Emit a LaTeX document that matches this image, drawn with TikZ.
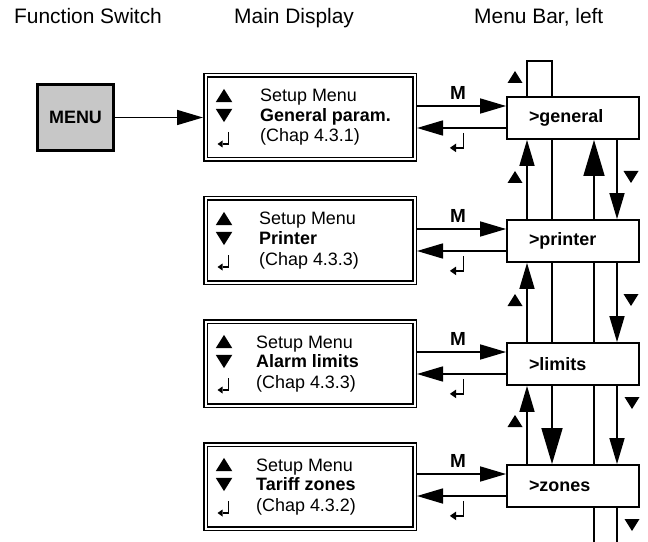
\documentclass[tikz,border=0pt]{standalone}
\usepackage{fontspec}
\setmainfont{Liberation Sans}
\usetikzlibrary{arrows.meta}

\tikzset{
  conn/.style={line width=1.6bp},
  tipN/.style={-{Triangle[length=26bp,width=15bp]}},
  tipL/.style={-{Triangle[length=36bp,width=21bp]}},
  menubtn/.style={draw, line width=3bp, fill=black!22, minimum width=76bp,
    minimum height=66bp, inner sep=0pt, font=\bfseries\fontsize{18}{20}\selectfont},
  dispbox/.style={draw, line width=1.5bp, double, double distance=2bp,
    minimum width=209bp, minimum height=84bp, outer sep=2.5bp},
  barbox/.style={draw, line width=1.8bp, minimum width=132bp, minimum height=42bp,
    text width=88bp, inner xsep=22bp, align=left,
    font=\bfseries\fontsize{18}{20}\selectfont},
  dline/.style={anchor=base west, inner sep=0pt, font=\fontsize{18}{20}\selectfont},
  bline/.style={dline, font=\bfseries\fontsize{18}{20}\selectfont},
  head/.style={anchor=base west, inner sep=0pt, font=\fontsize{21}{24}\selectfont},
  mlabel/.style={inner sep=0pt, font=\bfseries\fontsize{19}{21}\selectfont},
  uptri/.pic={\fill (-7.5,6) -- (7.5,6) -- (0,-6) -- cycle;},
  dntri/.pic={\fill (-7.5,-6) -- (7.5,-6) -- (0,6) -- cycle;},
  retsym/.pic={
    \draw[line width=1.6bp] (4.5,-6.5) -- (4.5,5.5) -- (-1.5,5.5);
    \fill (-6.5,5.5) -- (-1.5,2) -- (-1.5,9) -- cycle;}
}

% one row: display box, its three lines, the menu bar box and the M / return pair
% #1 name, #2 display top, #3 bar top, #4 text x, #5 item, #6 chapter, #7 bar label
\newcommand\setuprow[7]{%
  \node[dispbox] (#1d) at (310,#2+44.5) {};
  \node[dline] (#1t1) at (#4,#2+29) {Setup Menu};
  \node[bline] (#1t2) at (#4,#2+48.5) {#5};
  \node[dline] (#1t3) at (#4,#2+69) {#6};
  \pic[scale=1.1] at (224,#2+22.5) {uptri};
  \pic[scale=1.1] at (224,#2+42.5) {dntri};
  \pic at (224,#2+65.5) {retsym};
  \node[barbox] (#1b) at (573,#3+22) {#7};
  \coordinate (#1m) at (0,#3+10);
  \coordinate (#1r) at (0,#3+32);
  \draw[conn,tipN] (#1d.east |- #1m) -- (#1b.west |- #1m);
  \draw[conn,tipN] (#1b.west |- #1r) -- (#1d.east |- #1r);
  \node[mlabel] (#1M) at (458,#3-3) {M};
  \pic[scale=1.25] at (458,#3+45) {retsym};
}

\begin{document}
\begin{tikzpicture}[x=1bp,y=-1bp]
  \useasboundingbox (0,0) rectangle (648,542);

  % column headings
  \node[head] (hfs) at (14,24) {Function Switch};
  \node[head] (hmd) at (234,24) {Main Display};
  \node[head] (hmb) at (474,24) {Menu Bar, left};

  % function switch
  \node[menubtn] (menu) at (75.5,117.5) {MENU};

  \setuprow{gen}{73}{96}{260}{General param.}{(Chap 4.3.1)}{>general}
  \setuprow{prn}{196}{219}{259}{Printer}{(Chap 4.3.3)}{>printer}
  \setuprow{lim}{319}{342}{256}{Alarm limits}{(Chap 4.3.3)}{>limits}
  \setuprow{zon}{442}{464}{256}{Tariff zones}{(Chap 4.3.2)}{>zones}

  \draw[conn,tipN] (menu) -- (gend);

  % vertical links of the menu bar
  \coordinate (c1) at (527,0);
  \coordinate (c2) at (552,0);
  \coordinate (c3) at (594,0);
  \coordinate (c4) at (617,0);
  \coordinate (looptop) at (0,61);
  \coordinate (pagebot) at (0,542);

  \draw[conn] (c1 |- genb.north) -- (c1 |- looptop) -- (c2 |- looptop) -- (c2 |- genb.north);

  % general <-> printer
  \draw[conn,tipN] (c1 |- prnb.north) -- (c1 |- genb.south);
  \draw[conn] (c2 |- genb.south) -- (c2 |- prnb.north);
  \draw[conn,tipL] (c3 |- prnb.north) -- (c3 |- genb.south);
  \draw[conn,tipN] (c4 |- genb.south) -- (c4 |- prnb.north);

  % printer <-> limits
  \draw[conn,tipN] (c1 |- limb.north) -- (c1 |- prnb.south);
  \draw[conn] (c2 |- prnb.south) -- (c2 |- limb.north);
  \draw[conn] (c3 |- prnb.south) -- (c3 |- limb.north);
  \draw[conn,tipN] (c4 |- prnb.south) -- (c4 |- limb.north);

  % limits <-> zones
  \draw[conn,tipN] (c1 |- zonb.north) -- (c1 |- limb.south);
  \draw[conn,tipL] (c2 |- limb.south) -- (c2 |- zonb.north);
  \draw[conn] (c3 |- limb.south) -- (c3 |- zonb.north);
  \draw[conn,tipN] (c4 |- limb.south) -- (c4 |- zonb.north);

  % below zones
  \draw[conn] (c3 |- zonb.south) -- (c3 |- pagebot);
  \draw[conn] (c4 |- zonb.south) -- (c4 |- pagebot);

  % direction marks beside the links
  \pic at (515,77) {uptri};
  \pic at (515,177) {uptri};
  \pic at (631,177) {dntri};
  \pic at (515,300) {uptri};
  \pic at (631,300) {dntri};
  \pic at (515,421) {uptri};
  \pic at (632,403) {dntri};
  \pic at (632,525) {dntri};
\end{tikzpicture}
\end{document}
